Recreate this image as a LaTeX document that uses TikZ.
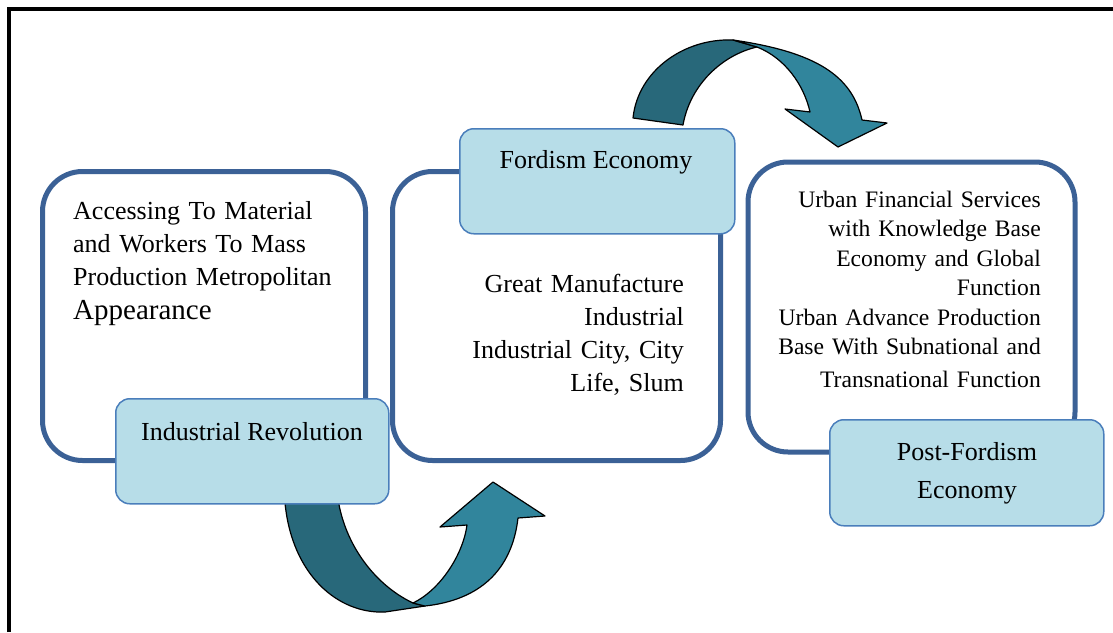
\documentclass[tikz,border=0pt]{standalone}
\usepackage{fontspec}
\setmainfont{Liberation Serif}
\definecolor{boxblue}{HTML}{3B6196}
\definecolor{lblfill}{HTML}{B7DDE8}
\definecolor{lbledge}{HTML}{4A7EBB}
\definecolor{arrdark}{HTML}{28687A}
\definecolor{arrlight}{HTML}{31859C}
\tikzset{
  bigbox/.style={draw=boxblue, line width=5pt, fill=white, rounded corners=40pt, inner sep=0pt, anchor=north west},
  lblbox/.style={draw=lbledge, line width=1.5pt, fill=lblfill, rounded corners=14pt, inner sep=0pt, anchor=north west},
  bodytext/.style={inner sep=0pt, font=\fontsize{26}{33.3}\selectfont},
  lbltext/.style={inner sep=0pt, font=\fontsize{26}{38}\selectfont, align=center},
  arrowpart/.style={draw=black, line width=1.2pt, line join=round}
}
\begin{document}
\begin{tikzpicture}[x=1pt,y=-1pt]
\useasboundingbox (0,0) rectangle (1113,632);
% frame
\draw[line width=4.3pt] (9.3,632) -- (9.3,9.3) -- (1113,9.3);

% top arrow (behind label 2)
\path[arrowpart, fill=arrdark] (633,118) .. controls (638,70) and (685,38) .. (733,40) -- (757,47) .. controls (722,55) and (690,85) .. (683,125) -- cycle;
\path[arrowpart, fill=arrlight] (757,47) .. controls (785,58) and (804,85) .. (810,112) -- (785,109) -- (838,147) -- (887,123) -- (862,120) .. controls (852,75) and (815,52) .. (733,40) -- cycle;

% bottom arrow
\path[arrowpart, fill=arrdark] (285,503) .. controls (292,575) and (338,614) .. (385,612) -- (425,606) -- (413,603) .. controls (375,585) and (345,545) .. (338,499) -- cycle;
\path[arrowpart, fill=arrlight] (413,603) .. controls (440,590) and (463,555) .. (467,525) -- (440,527) -- (493,482) -- (545,516) -- (518,518) .. controls (512,570) and (480,600) .. (425,606) -- cycle;

% stage 1
\node[bigbox, minimum width=323pt, minimum height=289pt] (b1) at (40,169) {};
\node[bodytext, anchor=base west, text width=300pt, align=left] (t1) at (73,219)
  {Accessing To Material\\ and Workers To Mass\\ Production Metropolitan\\[0.5pt] {\fontsize{29}{34}\selectfont Appearance}};
\node[lblbox, minimum width=273pt, minimum height=105pt] (l1) at (115,398) {};
\node[lbltext, anchor=base] (lt1) at (252,440) {Industrial Revolution};

% stage 2
\node[bigbox, minimum width=328pt, minimum height=289pt] (b2) at (390,169) {};
\node[bodytext, anchor=base east, text width=240pt, align=right, font=\fontsize{26}{33}\selectfont] (t2) at (684,292)
  {Great Manufacture\\ Industrial\\ Industrial City, City\\ Life, Slum};
\node[lblbox, minimum width=275pt, minimum height=105pt] (l2) at (459,128) {};
\node[lbltext, anchor=base] (lt2) at (596,168) {Fordism Economy};

% stage 3
\node[bigbox, minimum width=327pt, minimum height=290pt] (b3) at (745.5,159.5) {};
\node[bodytext, anchor=base east, text width=290pt, align=right, font=\fontsize{23.6}{29.5}\selectfont] (t3) at (1041,207)
  {Urban Financial Services\\ with Knowledge Base\\ Economy and Global\\ Function\\ Urban Advance Production\\ Base With Subnational and\\[3.5pt] Transnational Function};
\node[lblbox, minimum width=274pt, minimum height=106pt] (l3) at (829,419) {};
\node[lbltext, anchor=base] (lt3) at (967,498) {Post-Fordism\\ Economy};
\end{tikzpicture}
\end{document}
